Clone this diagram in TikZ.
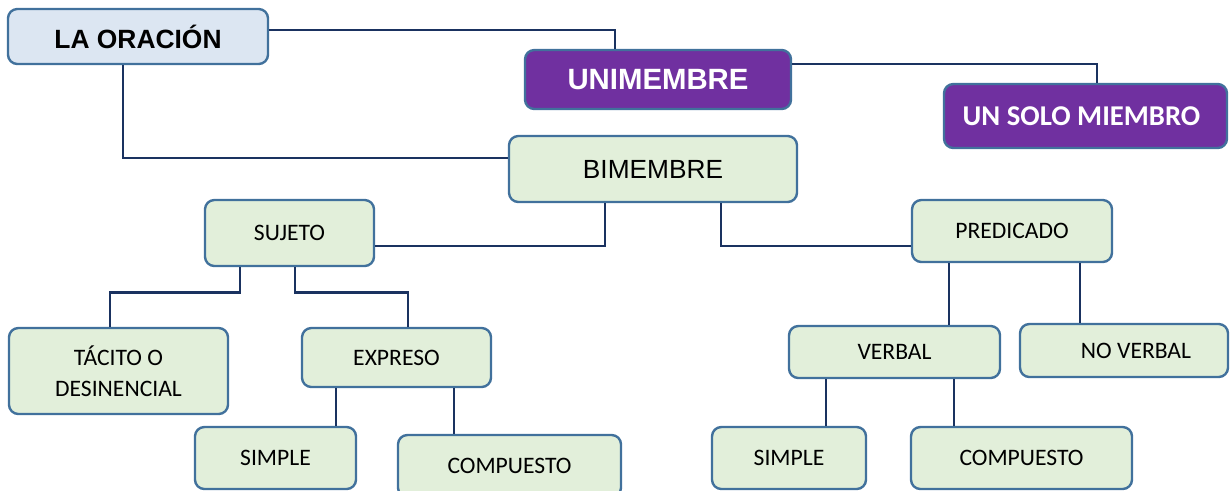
\documentclass[tikz,border=0pt]{standalone}
\usepackage{fontspec}
\setmainfont{Carlito}
\newfontfamily\arialfont{Liberation Sans}
\usetikzlibrary{calc}
\definecolor{Edge}{HTML}{41719C}
\definecolor{Link}{HTML}{1A3260}
\definecolor{SkyLight}{HTML}{DCE6F2}
\definecolor{Purple}{HTML}{7030A0}
\definecolor{GreenLight}{HTML}{E2EFDA}
\tikzset{box/.style={rounded corners=7pt,draw=Edge,line width=1.8pt,inner sep=0pt,align=center},dims/.style 2 args={minimum width=#1*0.75pt,minimum height=#2*0.75pt},title/.style={box,fill=SkyLight,font=\arialfont\bfseries\fontsize{19.8}{24}\selectfont},kind/.style={box,fill=Purple,text=white},part/.style={box,fill=GreenLight,font=\fontsize{17.7}{23}\selectfont},link/.style={draw=Link,line width=2pt}}

\begin{document}
\begin{tikzpicture}[x=0.75pt,y=-0.75pt]
        \useasboundingbox (0,0) rectangle (1232,490);
        \clip (0,0) rectangle (1232,490);
        % top level
        \node[title,dims={260}{55}] (oracion) at (138,36.5) {LA ORACIÓN};
        \node[kind,dims={266}{59},font=\arialfont\bfseries\fontsize{22}{26}\selectfont] (uni) at (658,79.5) {UNIMEMBRE};
        \node[kind,dims={283}{64},font=\bfseries\fontsize{21.5}{26}\selectfont] (solo) at (1085.5,116) {UN SOLO MIEMBRO\hspace*{6pt}};
        \node[part,dims={288}{66},font=\arialfont\fontsize{19.7}{24}\selectfont] (bi) at (653,169) {BIMEMBRE};
        % sujeto side
        \node[part,dims={169}{66}] (sujeto) at (289.5,233) {SUJETO};
        \node[part,dims={219}{86}] (tacito) at (118.5,371) {TÁCITO O\\DESINENCIAL};
        \node[part,dims={189}{59}] (expreso) at (396.5,357.5) {EXPRESO};
        \node[part,dims={161}{62}] (simpleA) at (275.5,458) {SIMPLE};
        \node[part,dims={223}{62}] (compA) at (509.5,466) {COMPUESTO};
        % predicado side
        \node[part,dims={200}{62}] (pred) at (1012,231) {PREDICADO};
        \node[part,dims={211}{52}] (verbal) at (894.5,352) {VERBAL};
        \node[part,dims={208}{53}] (noverbal) at (1124,350.5) {\hspace*{18pt}NO VERBAL};
        \node[part,dims={154}{62}] (simpleB) at (789,458) {SIMPLE};
        \node[part,dims={221}{62}] (compB) at (1021.5,458) {COMPUESTO};
        % connectors
        \draw[link] ($(oracion.east)+(0,-6.5)$) -| ($(uni.north)+(-43,0)$);
        \draw[link] ($(uni.east)+(0,-15.5)$) -| ($(solo.north)+(11.5,0)$);
        \draw[link] ($(oracion.south)+(-15,0)$) |- ($(bi.west)+(0,-11)$);
        \draw[link] ($(bi.south)+(-48,0)$) |- ($(sujeto.east)+(0,13)$);
        \draw[link] ($(bi.south)+(68,0)$) |- ($(pred.west)+(0,15)$);
        \draw[link] ($(sujeto.south)+(-49.5,0)$) -- ++(0,25) -| ($(tacito.north)+(-8.5,0)$);
        \draw[link] ($(sujeto.south)+(5.5,0)$) -- ++(0,25) -| ($(expreso.north)+(11.5,0)$);
        \draw[link] ($(expreso.south)+(-60.5,0)$) -- ($(simpleA.north)+(60.5,0)$);
        \draw[link] ($(expreso.south)+(57.5,0)$) -- ($(compA.north)+(-55.5,0)$);
        \draw[link] ($(pred.south)+(-63,0)$) -- ($(verbal.north)+(54.5,0)$);
        \draw[link] ($(pred.south)+(68,0)$) -- ($(noverbal.north)+(-44,0)$);
        \draw[link] ($(verbal.south)+(-68.5,0)$) -- ($(simpleB.north)+(37,0)$);
        \draw[link] ($(verbal.south)+(59.5,0)$) -- ($(compB.north)+(-67.5,0)$);
\end{tikzpicture}
\end{document}
